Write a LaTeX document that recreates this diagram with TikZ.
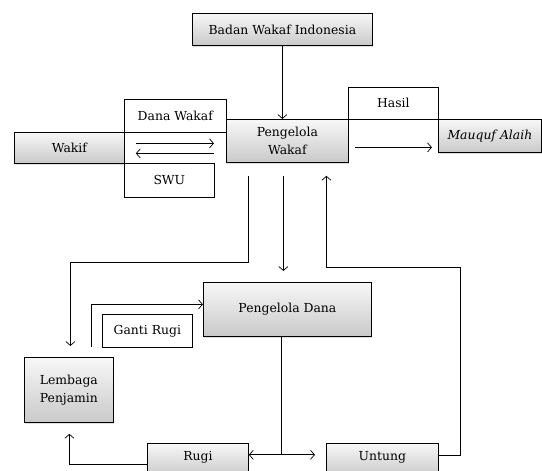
\documentclass[tikz,border=0pt]{standalone}
\usepackage{fontspec}
\setmainfont{DejaVu Serif}
\usetikzlibrary{arrows.meta,calc,shadows}

\begin{document}
\begin{tikzpicture}[x=1pt,y=-1pt,
    font=\fontsize{12.4}{18}\selectfont,
    box/.style={draw, line width=0.8pt, top color=gray!6, bottom color=gray!42,
      inner sep=0pt, anchor=north west, align=center,
      drop shadow={shadow xshift=1pt,shadow yshift=-1.2pt,opacity=0.25}},
    lbl/.style={draw, line width=0.7pt, fill=white, inner sep=0pt, anchor=north west},
    flow/.style={line width=0.7pt, -{Straight Barb[length=4pt,width=9pt]}}]
  \useasboundingbox (0,0) rectangle (542,471);

  % top row
  \node[box, minimum width=180pt, minimum height=32pt] (badan) at (192,13) {Badan Wakaf Indonesia};
  \node[box, minimum width=110pt, minimum height=31pt] (wakif) at (14,132) {Wakif};
  \node[lbl, minimum width=102pt, minimum height=33pt] (dana) at (124,99) {Dana Wakaf};
  \node[lbl, minimum width=90pt, minimum height=34pt] (swu) at (124,163) {SWU};
  \node[lbl, minimum width=90pt, minimum height=32pt] (hasil) at (348,87) {Hasil};
  \node[box, minimum width=122pt, minimum height=43pt] (pw) at (226,119) {Pengelola\\Wakaf};
  \node[box, minimum width=103pt, minimum height=33pt] (mauquf) at (438,119) {\textit{Mauquf Alaih}};

  % lower part
  \node[box, minimum width=168pt, minimum height=54pt] (pd) at (203,282) {Pengelola Dana};
  \node[lbl, minimum width=90pt, minimum height=33pt] (ganti) at (102,314) {Ganti Rugi};
  \node[box, minimum width=89pt, minimum height=65pt] (lembaga) at (24,357) {Lembaga\\Penjamin};
  \node[box, minimum width=101pt, text height=13pt, text depth=12pt, inner ysep=4pt] (rugi) at (147,443) {Rugi};
  \node[box, minimum width=112pt, text height=13pt, text depth=12pt, inner ysep=4pt] (untung) at (326,443) {Untung};

  % connectors
  \draw[flow] (badan.south) -- (badan.south |- pw.north);
  \draw[flow] ($(wakif.east)+(11,-4.5)$) -- ($(pw.west |- wakif.east)+(-12,-4.5)$);
  \draw[flow] ($(pw.west |- wakif.east)+(-12,5.5)$) -- ($(wakif.east)+(11,5.5)$);
  \draw[flow] ($(pw.east)+(6,6.5)$) -- ($(mauquf.west |- pw.east)+(-6,6.5)$);

  \draw[flow] ($(pw.south)+(-39,13)$) -- ++(0,87) -| ($(lembaga.north)+(1.5,-11)$);
  \draw[flow] ($(pw.south)+(-4,13)$) -- ($(pd.north)+(-4,-11)$);
  \draw[flow] ($(untung.north east)+(0,12)$) -- ++(22,0) |- ($(pw.south)+(39,105)$) -- ($(pw.south)+(39,13)$);

  \draw ($(pd.south)+(-6,0)$) -- ++(0,118) coordinate (split);
  \draw[flow] (split) -- (rugi.east |- split);
  \draw[flow] (split) -- ($(untung.west |- split)+(-11,0)$);

  \draw[flow] ($(lembaga.north)+(22.5,-10)$) |- ($(pd.west)+(0,-5)$);
  \draw[flow] ($(rugi.north west)+(0,21)$) -| ($(lembaga.south)+(0.5,11)$);
\end{tikzpicture}
\end{document}
